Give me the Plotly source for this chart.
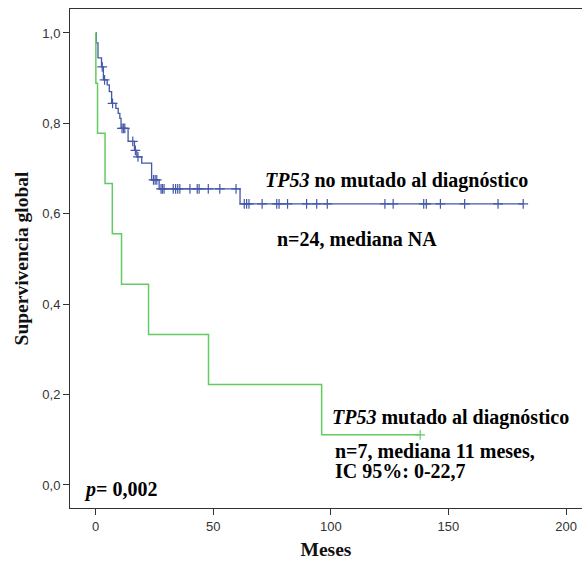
import numpy as np
import plotly.graph_objects as go

# ---- data ----
blue_times = [0.3, 1.0, 2.5, 3.3, 4.9, 5.8, 6.8, 8.6, 9.6, 10.3, 10.8, 13.8, 16.5, 17.5, 19.6, 23.8, 27.0, 61.4]
blue_surv = [0.978, 0.945, 0.925, 0.896, 0.885, 0.870, 0.844, 0.833, 0.822, 0.811, 0.789, 0.760, 0.740, 0.726, 0.712, 0.675, 0.655, 0.622]
blue_end = 181.8
blue_censor = [2.8, 3.8, 7.2, 11.2, 11.8, 12.4, 15.8, 16.9, 18.0, 24.6, 25.3, 26.0,
               27.8, 28.4, 29.1, 33.0, 34.0, 34.9, 35.8, 40.1, 43.2, 44.0, 47.9, 52.8, 59.7,
               63.2, 64.2, 65.2, 70.8, 77.0, 78.0, 81.6, 89.7, 94.0, 98.5, 123.0, 126.5,
               139.5, 140.6, 146.6, 156.9, 171.1, 181.8]

green_times = [0.1, 0.8, 4.0, 7.1, 11.0, 22.5, 48.0, 96.1]
green_surv = [0.889, 0.778, 0.667, 0.556, 0.444, 0.333, 0.222, 0.111]
green_end = 138.0
green_censor = [138.0]

x_ticks = [0, 50, 100, 150, 200]
y_ticks = [0.0, 0.2, 0.4, 0.6, 0.8, 1.0]
y_ticklabels = ["0,0", "0,2", "0,4", "0,6", "0,8", "1,0"]

BLUE = "#4358a8"
GREEN = "#62cc62"


def step_xy(times, surv, end):
    x = [0] + list(times) + [end]
    y = [1.0] + list(surv) + [surv[-1]]
    return x, y


def surv_at(times, surv, t):
    s = 1.0
    for ti, si in zip(times, surv):
        if ti <= t:
            s = si
    return s


fig = go.Figure()
for times, surv, end, cens, col, w in [
    (blue_times, blue_surv, blue_end, blue_censor, BLUE, 1.3),
    (green_times, green_surv, green_end, green_censor, GREEN, 1.5),
]:
    x, y = step_xy(times, surv, end)
    fig.add_trace(go.Scatter(x=x, y=y, mode="lines", line=dict(color=col, width=w, shape="hv"),
                             showlegend=False, hoverinfo="skip"))
    fig.add_trace(go.Scatter(x=cens, y=[surv_at(times, surv, t) for t in cens], mode="markers",
                             marker=dict(symbol="cross-thin", size=7, line=dict(color=col, width=1.2)),
                             showlegend=False, hoverinfo="skip"))

serif = "Liberation Serif, Times New Roman, serif"
ann_font = dict(family=serif, size=20, color="#000000")
notes = [
    (71.1, 0.673, "<b><i>TP53</i> no mutado al diagnóstico</b>"),
    (76.2, 0.544, "<b>n=24, mediana NA</b>"),
    (99.6, 0.150, "<b><i>TP53</i> mutado al diagnóstico</b>"),
    (100.9, 0.075, "<b>n=7, mediana 11 meses,</b>"),
    (100.9, 0.031, "<b>IC 95%: 0-22,7</b>"),
    (-5.8, -0.009, "<b><i>p</i>= 0,002</b>"),
]
for x, y, t in notes:
    fig.add_annotation(x=x, y=y, text=t, showarrow=False, xanchor="left", yanchor="middle", font=ann_font)

fig.update_layout(
    width=582, height=568,
    margin=dict(l=70, r=0, t=9, b=60),
    paper_bgcolor="white", plot_bgcolor="white",
    xaxis=dict(range=[-10.9, 206.8], tickvals=x_ticks, ticks="outside", ticklen=6,
               tickcolor="#333", showline=True, linecolor="#333", linewidth=1, mirror=True,
               showgrid=False, zeroline=False,
               tickfont=dict(family="Liberation Sans, Arial", size=13, color="#333"),
               title=dict(text="<b>Meses</b>", font=dict(family=serif, size=19.5, color="#111"), standoff=9)),
    yaxis=dict(range=[-0.051, 1.053], tickvals=y_ticks, ticktext=y_ticklabels, ticks="outside", ticklen=6,
               tickcolor="#333", showline=True, linecolor="#333", linewidth=1, mirror=False,
               showgrid=False, zeroline=False,
               tickfont=dict(family="Liberation Sans, Arial", size=13, color="#333"),
               title=dict(text="<b>Supervivencia global</b>", font=dict(family=serif, size=19.5, color="#111"), standoff=8)),
)
fig.write_html("out.html")
